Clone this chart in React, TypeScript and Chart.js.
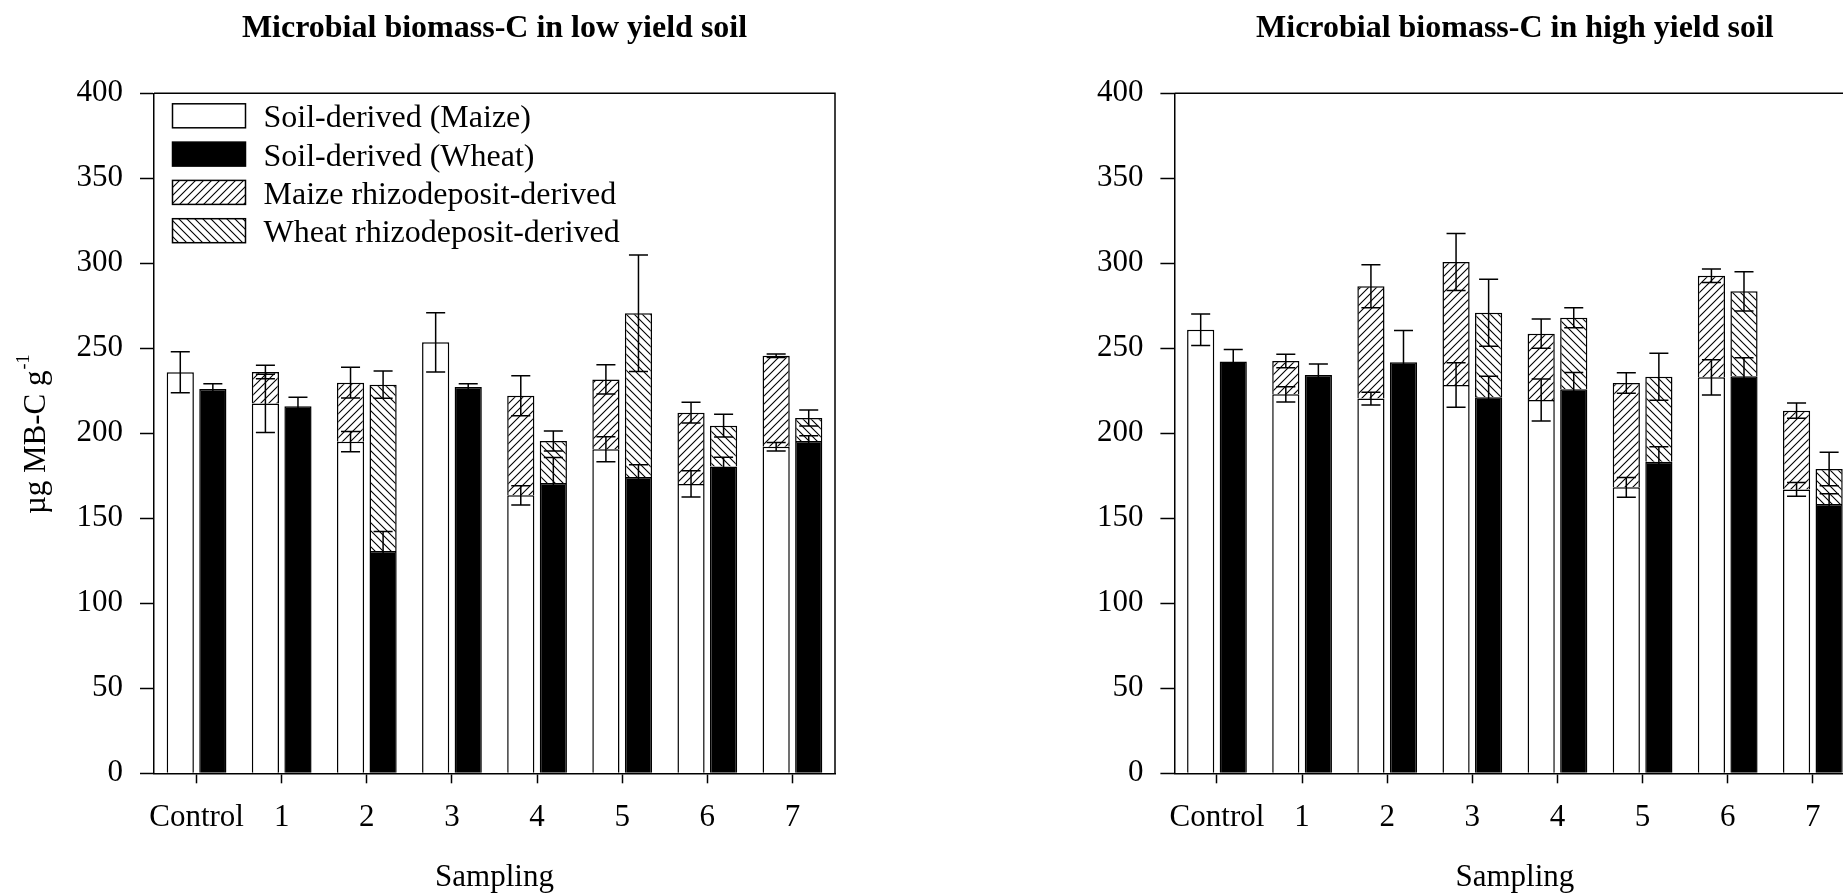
import React, { useEffect, useRef } from 'react';
import { Chart, registerables } from 'chart.js';

Chart.register(...registerables);

const FONT = '"Liberation Serif", "Times New Roman", serif';

// ---------- data ----------
const categories = ['Control', '1', '2', '3', '4', '5', '6', '7'];
const seriesLabels = [
  'Soil-derived (Maize)',
  'Soil-derived (Wheat)',
  'Maize rhizodeposit-derived',
  'Wheat rhizodeposit-derived',
];
const yMin = 0;
const yMax = 400;
const yStep = 50;
const xTitle = 'Sampling';
const yTitleMain = 'µg MB-C g';
const yTitleSup = '-1';

// Low yield soil
const lowTitle = 'Microbial biomass-C in low yield soil';
const lowMaizeSoil = [235.9, 217.6, 195.1, 253.5, 163.5, 190.6, 170.2, 192.1];
const lowMaizeSoilErr = [12, 17.2, 6, 17.4, 5.7, 7.3, 7.7, 2.5];
const lowWheatSoil = [226.1, 215.9, 130.8, 227.2, 170.8, 174.3, 180.4, 195.5];
const lowWheatSoilErr = [3, 5.3, 11.5, 2, 15, 7.2, 5.5, 3];
const lowMaizeRhizo = [null, 18.5, 34.7, null, 58.6, 41.1, 41.9, 53.5];
const lowMaizeRhizoErr = [null, 4, 9, null, 11.8, 8.6, 6.1, 1];
const lowWheatRhizo = [null, null, 97.8, null, 24.7, 96.3, 24.1, 13.5];
const lowWheatRhizoErr = [null, null, 8, null, 5.9, 34.3, 6.7, 4.7];

// High yield soil
const highTitle = 'Microbial biomass-C in high yield soil';
const highMaizeSoil = [260.9, 222.9, 220.4, 228.4, 219.6, 168.2, 232.9, 167];
const highMaizeSoilErr = [9.3, 4.5, 3.8, 13.1, 12.4, 5.8, 10.4, 4];
const highWheatSoil = [242.3, 234.3, 241.8, 221.2, 225.9, 183.3, 233.5, 158.4];
const highWheatSoilErr = [7, 6.5, 18.6, 12.3, 9.8, 8.8, 11, 6];
const highMaizeRhizo = [null, 19.6, 66.1, 72.4, 39, 61.4, 59.8, 46.3];
const highMaizeRhizoErr = [null, 4, 12.7, 16.8, 8.6, 6, 4, 4.5];
const highWheatRhizo = [null, null, null, 49.7, 42.1, 50, 50, 20.6];
const highWheatRhizoErr = [null, null, null, 19.7, 5.9, 13.8, 11.6, 9.8];

// ---------- helpers ----------
function makeHatch(forward: boolean): any {
  const s = 8;
  const tile = document.createElement('canvas');
  tile.width = s;
  tile.height = s;
  const g = tile.getContext('2d')!;
  g.fillStyle = '#ffffff';
  g.fillRect(0, 0, s, s);
  g.strokeStyle = '#000000';
  g.lineWidth = 1.1;
  g.beginPath();
  if (forward) {
    g.moveTo(0, s); g.lineTo(s, 0);
    g.moveTo(-2, 2); g.lineTo(2, -2);
    g.moveTo(s - 2, s + 2); g.lineTo(s + 2, s - 2);
  } else {
    g.moveTo(0, 0); g.lineTo(s, s);
    g.moveTo(-2, s - 2); g.lineTo(2, s + 2);
    g.moveTo(s - 2, -2); g.lineTo(s + 2, 2);
  }
  g.stroke();
  const pat = g.createPattern(tile, 'repeat');
  return pat || '#888';
}

const errorBarsPlugin = {
  id: 'errorBars',
  afterDatasetsDraw(chart: any) {
    const ctx = chart.ctx;
    const y = chart.scales.y;
    ctx.save();
    ctx.strokeStyle = '#000';
    ctx.lineWidth = 1.5;
    chart.data.datasets.forEach((ds: any, i: number) => {
      const meta = chart.getDatasetMeta(i);
      const errs = ds.errors;
      if (!errs) return;
      meta.data.forEach((el: any, j: number) => {
        const v = ds.data[j];
        const e = errs[j];
        if (v == null || e == null || !isFinite(el.y)) return;
        const top = el.y;
        const d = y.getPixelForValue(0) - y.getPixelForValue(e);
        const half = el.width * 0.35;
        ctx.beginPath();
        ctx.moveTo(el.x, top - d); ctx.lineTo(el.x, top + d);
        ctx.moveTo(el.x - half, top - d); ctx.lineTo(el.x + half, top - d);
        ctx.moveTo(el.x - half, top + d); ctx.lineTo(el.x + half, top + d);
        ctx.stroke();
      });
    });
    ctx.restore();
  },
};

const decorPlugin = {
  id: 'decor',
  afterDraw(chart: any) {
    const ctx = chart.ctx;
    const a = chart.chartArea;
    const o = chart.options.plugins.decor || {};
    ctx.save();
    // frame: top + right
    ctx.strokeStyle = '#000';
    ctx.lineWidth = 1.5;
    ctx.beginPath();
    ctx.moveTo(a.left, a.top);
    ctx.lineTo(a.right, a.top);
    ctx.lineTo(a.right, a.bottom);
    ctx.stroke();
    // title
    ctx.fillStyle = '#000';
    ctx.font = `bold 32px ${FONT}`;
    ctx.textAlign = 'center';
    ctx.textBaseline = 'alphabetic';
    ctx.fillText(o.title || '', (a.left + a.right) / 2, 37);
    // y-axis title
    if (o.yTitle) {
      ctx.save();
      ctx.translate(45, (a.top + a.bottom) / 2 + 1);
      ctx.rotate(-Math.PI / 2);
      ctx.font = `31px ${FONT}`;
      const wMain = ctx.measureText(yTitleMain).width;
      ctx.font = `18px ${FONT}`;
      const wSup = ctx.measureText(yTitleSup).width;
      const x0 = -(wMain + wSup + 1) / 2;
      ctx.textAlign = 'left';
      ctx.font = `31px ${FONT}`;
      ctx.fillText(yTitleMain, x0, 0);
      ctx.font = `18px ${FONT}`;
      ctx.fillText(yTitleSup, x0 + wMain + 1, -16);
      ctx.restore();
    }
    // legend
    if (o.legend) {
      const boxX = a.left + 18.5;
      const boxW = 73;
      const boxH = 24;
      const startY = a.top + 10.5;
      const step = 38.3;
      ctx.font = `32px ${FONT}`;
      ctx.textAlign = 'left';
      chart.data.datasets.forEach((ds: any, i: number) => {
        const yy = startY + i * step;
        ctx.fillStyle = ds.backgroundColor;
        ctx.fillRect(boxX, yy, boxW, boxH);
        ctx.strokeStyle = '#000';
        ctx.lineWidth = 1.5;
        ctx.strokeRect(boxX, yy, boxW, boxH);
        ctx.fillStyle = '#000';
        ctx.fillText(ds.label, boxX + boxW + 18, yy + boxH - 0.5);
      });
    }
    ctx.restore();
  },
};

type PanelProps = {
  left: number;
  width: number;
  yAxisWidth: number;
  padRight: number;
  title: string;
  legend: boolean;
  yTitle: boolean;
  maizeSoil: number[];
  maizeSoilErr: number[];
  wheatSoil: number[];
  wheatSoilErr: number[];
  maizeRhizo: (number | null)[];
  maizeRhizoErr: (number | null)[];
  wheatRhizo: (number | null)[];
  wheatRhizoErr: (number | null)[];
};

function Panel(p: PanelProps) {
  const ref = useRef<HTMLCanvasElement | null>(null);
  useEffect(() => {
    if (!ref.current) return;
    const maizeHatch = makeHatch(true);
    const wheatHatch = makeHatch(false);
    const tickFont = { family: FONT, size: 31 };
    const chart = new Chart(ref.current, {
      type: 'bar',
      data: {
        labels: categories,
        datasets: [
          { label: seriesLabels[0], data: p.maizeSoil, stack: 'maize', backgroundColor: '#ffffff', borderColor: '#000', borderWidth: 1.5, errors: p.maizeSoilErr } as any,
          { label: seriesLabels[1], data: p.wheatSoil, stack: 'wheat', backgroundColor: '#000000', borderColor: '#000', borderWidth: 1.5, errors: p.wheatSoilErr } as any,
          { label: seriesLabels[2], data: p.maizeRhizo, stack: 'maize', backgroundColor: maizeHatch, borderColor: '#000', borderWidth: 1.5, errors: p.maizeRhizoErr } as any,
          { label: seriesLabels[3], data: p.wheatRhizo, stack: 'wheat', backgroundColor: wheatHatch, borderColor: '#000', borderWidth: 1.5, errors: p.wheatRhizoErr } as any,
        ],
      },
      options: {
        responsive: false,
        animation: false,
        devicePixelRatio: 1,
        categoryPercentage: 0.765,
        barPercentage: 0.835,
        layout: { padding: { top: 93.3, right: p.padRight, left: 0, bottom: 0 } },
        plugins: {
          legend: { display: false },
          title: { display: false },
          tooltip: { enabled: false },
          decor: { title: p.title, legend: p.legend, yTitle: p.yTitle },
        } as any,
        scales: {
          x: {
            stacked: true,
            offset: true,
            grid: { display: true, drawOnChartArea: false, drawTicks: true, tickLength: 10, tickWidth: 1.5, tickColor: '#000', color: '#000', offset: false },
            border: { display: true, color: '#000', width: 1.5 },
            ticks: { color: '#000', font: tickFont, padding: 15.6, maxRotation: 0, autoSkip: false },
            title: { display: true, text: xTitle, color: '#000', font: tickFont, padding: { top: 0, bottom: 0 } },
            afterFit: (s: any) => { s.height = 122.7; },
          },
          y: {
            stacked: true,
            min: yMin,
            max: yMax,
            ticks: { stepSize: yStep, color: '#000', font: tickFont, padding: 17 },
            grid: { display: true, drawOnChartArea: false, drawTicks: true, tickLength: 14, tickWidth: 1.5, tickColor: '#000', color: '#000' },
            border: { display: true, color: '#000', width: 1.5 },
            afterFit: (s: any) => { s.width = p.yAxisWidth; },
          },
        },
      } as any,
      plugins: [errorBarsPlugin, decorPlugin],
    });
    return () => chart.destroy();
  }, []);
  return (
    <canvas
      ref={ref}
      width={p.width}
      height={896}
      style={{ position: 'absolute', left: p.left, top: 0, width: p.width, height: 896 }}
    />
  );
}

export default function App() {
  return (
    <div style={{ position: 'fixed', left: 0, top: 0, width: 1843, height: 896, overflow: 'hidden', background: '#fff' }}>
      <Panel
        left={0}
        width={920}
        yAxisWidth={154}
        padRight={85}
        title={lowTitle}
        legend={true}
        yTitle={true}
        maizeSoil={lowMaizeSoil}
        maizeSoilErr={lowMaizeSoilErr}
        wheatSoil={lowWheatSoil}
        wheatSoilErr={lowWheatSoilErr}
        maizeRhizo={lowMaizeRhizo}
        maizeRhizoErr={lowMaizeRhizoErr}
        wheatRhizo={lowWheatRhizo}
        wheatRhizoErr={lowWheatRhizoErr}
      />
      <Panel
        left={920}
        width={1000}
        yAxisWidth={254.4}
        padRight={64.6}
        title={highTitle}
        legend={false}
        yTitle={false}
        maizeSoil={highMaizeSoil}
        maizeSoilErr={highMaizeSoilErr}
        wheatSoil={highWheatSoil}
        wheatSoilErr={highWheatSoilErr}
        maizeRhizo={highMaizeRhizo}
        maizeRhizoErr={highMaizeRhizoErr}
        wheatRhizo={highWheatRhizo}
        wheatRhizoErr={highWheatRhizoErr}
      />
    </div>
  );
}
